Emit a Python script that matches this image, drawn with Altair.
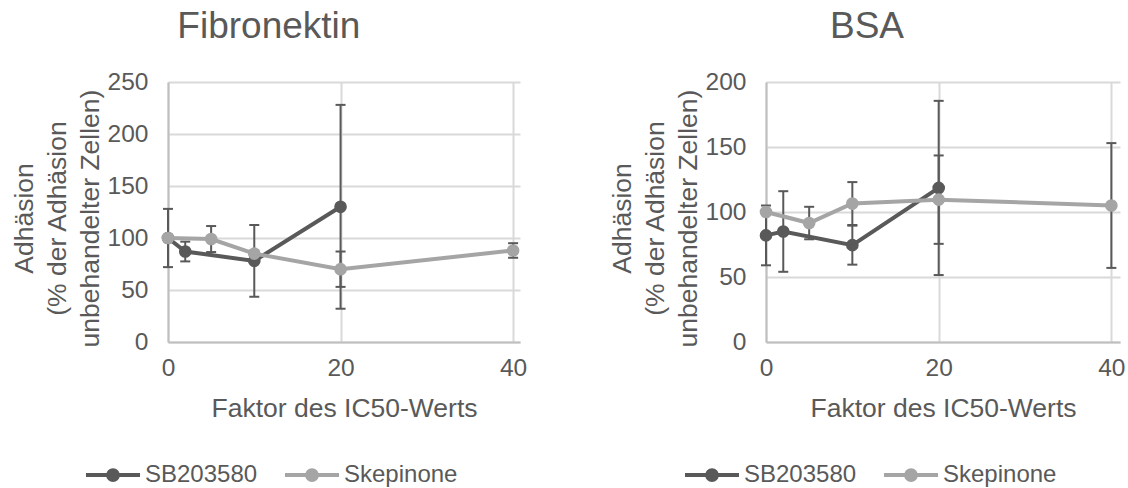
import altair as alt
import pandas as pd

series = ["SB203580", "Skepinone"]
colors = ["#595959", "#A5A5A5"]
x_ticks = [0, 20, 40]
y_title = ["Adhäsion", "(% der Adhäsion", "unbehandelter Zellen)"]
x_title = "Faktor des IC50-Werts"

# Fibronektin
fib_sb_x = [0, 2, 10, 20]
fib_sb_y = [100, 87, 78, 130]
fib_sb_err = [28, 9.5, 34.5, 98]
fib_sk_x = [0, 5, 10, 20, 40]
fib_sk_y = [100, 99, 85, 70, 88]
fib_sk_err = [0, 12.5, 3, 17, 7]

# BSA
bsa_sb_x = [0, 2, 10, 20]
bsa_sb_y = [82, 85, 74.5, 118.5]
bsa_sb_err = [23, 31, 15, 67]
bsa_sk_x = [0, 5, 10, 20, 40]
bsa_sk_y = [100, 91.5, 106.5, 109.5, 105]
bsa_sk_err = [0, 12.5, 16.5, 34, 48]

FONT = "Liberation Sans"
TXT = "#595959"


def make_df(sb_x, sb_y, sb_e, sk_x, sk_y, sk_e):
    rows = []
    for s, xs, ys, es in [(series[0], sb_x, sb_y, sb_e), (series[1], sk_x, sk_y, sk_e)]:
        for x, y, e in zip(xs, ys, es):
            rows.append({"series": s, "x": x, "y": y, "err": e, "lo": y - e, "hi": y + e})
    return pd.DataFrame(rows)


def panel(df, title, ymax, xmax, width, legend_x):
    xscale = alt.Scale(domain=[0, xmax], nice=False, zero=True)
    yscale = alt.Scale(domain=[0, ymax], nice=False)
    xaxis = alt.Axis(values=x_ticks, title=x_title, grid=True, gridColor="#D9D9D9", gridWidth=2,
                     domainColor="#BFBFBF", domainWidth=2, ticks=False, labelFontSize=24.5,
                     labelColor=TXT, labelPadding=14, titleFontSize=26.5, titleColor=TXT,
                     titleFontWeight="normal", titleBaseline="alphabetic", titleY=74, labelFont=FONT,
                     titleFont=FONT, labelFlush=False, labelOverlap=False)
    yaxis = alt.Axis(values=list(range(0, ymax + 1, 50)), title=y_title, grid=True, gridColor="#D9D9D9",
                     gridWidth=2, domainColor="#BFBFBF", domainWidth=2, ticks=False, labelFontSize=24.5,
                     labelColor=TXT, labelPadding=20, titleFontSize=26.5, titleColor=TXT,
                     titleFontWeight="normal", titleBaseline="alphabetic", titleAlign="center",
                     titleX=-136, titleY=136, titleLineHeight=33, labelFont=FONT, titleFont=FONT,
                     labelFlush=False, labelOverlap=False)
    legend = alt.Legend(title=None, orient="none", direction="horizontal", legendX=legend_x, legendY=381,
                        symbolType="M-3.86,0H3.86M0.7,0A0.7,0.7,0,1,1,-0.7,0A0.7,0.7,0,1,1,0.7,0Z",
                        symbolSize=196, symbolStrokeWidth=4, labelFontSize=24, labelColor=TXT,
                        labelFont=FONT, labelOffset=20, columnPadding=18, padding=0,
                        symbolOpacity=1)
    cscale = alt.Scale(domain=series, range=colors)
    stroke = alt.Stroke("series:N", scale=cscale, legend=legend)
    fill = alt.Fill("series:N", scale=cscale, legend=legend)

    def X(f):
        return alt.X(f"{f}:Q", scale=xscale, axis=xaxis)

    def Y(f):
        return alt.Y(f"{f}:Q", scale=yscale, axis=yaxis)

    base = alt.Chart(df)
    errs = base.transform_filter("datum.err > 0")
    rules = errs.mark_rule(color="#595959", strokeWidth=2).encode(x=X("x"), y=Y("lo"), y2="hi:Q")
    caps = errs.transform_fold(["lo", "hi"], as_=["which", "v"]).mark_tick(
        orient="horizontal", color="#595959", size=10, thickness=2, opacity=1
    ).encode(x=X("x"), y=Y("v"))
    layers = [rules, caps]
    for s in series:
        sub = base.transform_filter(alt.datum.series == s)
        layers.append(sub.mark_line(strokeWidth=4).encode(x=X("x"), y=Y("y"), stroke=stroke))
        layers.append(sub.mark_circle(size=160, opacity=1).encode(x=X("x"), y=Y("y"), fill=fill))
    return alt.layer(*layers).properties(
        width=width, height=260,
        title=alt.TitleParams(text=title, fontSize=37, font=FONT, color=TXT, fontWeight="normal",
                              anchor="middle", frame="bounds", offset=23),
    )


left = panel(make_df(fib_sb_x, fib_sb_y, fib_sb_err, fib_sk_x, fib_sk_y, fib_sk_err),
             "Fibronektin", 250, 40.8, 352, -67)
right = panel(make_df(bsa_sb_x, bsa_sb_y, bsa_sb_err, bsa_sk_x, bsa_sk_y, bsa_sk_err),
              "BSA", 200, 41.0, 354, -66)

chart = alt.hconcat(left, right, spacing=82).resolve_scale(
    x="independent", y="independent", stroke="shared", fill="shared"
).resolve_legend(stroke="independent", fill="independent").properties(
    padding={"left": 11, "top": 8, "right": 0, "bottom": 0}
).configure(font=FONT).configure_view(stroke=None)

chart.save("out.html", embed_options={"renderer": "svg", "actions": False})
